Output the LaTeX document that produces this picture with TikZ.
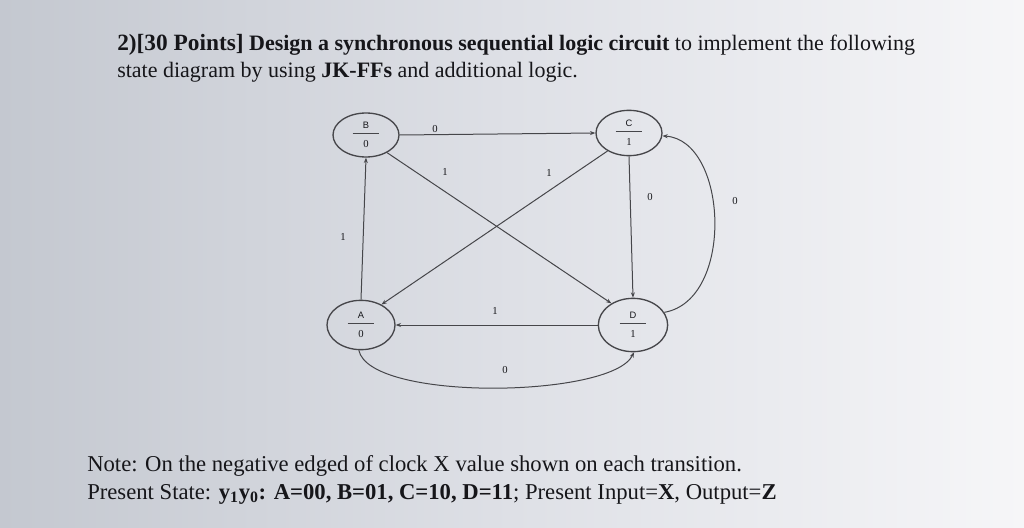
\documentclass[tikz,border=0pt]{standalone}
\usepackage{fontspec}
\setmainfont{Liberation Serif}
\setsansfont{Liberation Sans}
\usetikzlibrary{shapes.geometric,arrows.meta}
\definecolor{bgl}{RGB}{196,200,208}
\definecolor{bgm}{RGB}{222,224,230}
\definecolor{bgr}{RGB}{246,246,248}
\definecolor{ln}{RGB}{70,70,74}
\definecolor{tx}{RGB}{22,22,26}
\tikzset{
  stateell/.style={ellipse, draw=ln, line width=1pt, inner sep=0pt},
  letterlbl/.style={font=\sffamily\fontsize{7}{8}\selectfont, text=tx, inner sep=0pt},
  digitlbl/.style={font=\fontsize{8}{9}\selectfont, text=tx, inner sep=0pt},
  edgelbl/.style={font=\fontsize{8}{9}\selectfont, text=tx, inner sep=0pt},
  trans/.style={draw=ln, line width=0.75pt, -{Stealth[length=4pt,width=3pt]}},
  bigtext/.style={anchor=base west, inner sep=0pt, text=tx}
}
\begin{document}
\begin{tikzpicture}[x=0.75pt,y=-0.75pt]
\useasboundingbox (0,0) rectangle (1024,528);
\shade[left color=bgl, right color=bgr, middle color=bgm] (0,0) rectangle (1024,528);

% states
\node[stateell, minimum width=49.5pt, minimum height=33pt] (B) at (366,135) {};
\node[stateell, minimum width=49.5pt, minimum height=34pt] (C) at (629,133) {};
\node[stateell, minimum width=51pt, minimum height=37pt] (A) at (361,325) {};
\node[stateell, minimum width=52pt, minimum height=40pt] (D) at (633,325) {};

\foreach \s/\l/\d in {B/B/0, C/C/1, A/A/0, D/D/1}{
  \node[letterlbl] (\s-l) at ([yshift=7.5pt]\s.center) {\l};
  \node[digitlbl] (\s-d) at ([yshift=-7pt]\s.center) {\d};
  \draw[ln, line width=0.6pt] ([xshift=-10pt,yshift=1pt]\s.center) -- ([xshift=10pt,yshift=1pt]\s.center);
}

% transitions
\draw[trans] (B.east) -- (C.west);
\draw[trans] (A.north) -- (B.south);
\draw[trans] (C.south) -- (D.north);
\draw[trans] (D.west) -- (A.east);
\draw[trans] (B.-40) -- (D.135);
\draw[trans] (C.-140) -- (A.45);
\draw[trans] (D.22) .. controls (735,300) and (728,140) .. (C.-5);
\draw[trans] (A.-95) .. controls (370,402) and (612,398) .. (D.-88);

% transition labels
\node[edgelbl] (lBC) at (435,129) {0};
\node[edgelbl] (lAB) at (343,237) {1};
\node[edgelbl] (lCD) at (650,197) {0};
\node[edgelbl] (lDC) at (735,201) {0};
\node[edgelbl] (lDA) at (495,311) {1};
\node[edgelbl] (lAD) at (505,370) {0};
\node[edgelbl] (lBD) at (445,172) {1};
\node[edgelbl] (lCA) at (549,173) {1};

% title
\node[bigtext, font=\fontsize{16.5}{19}\selectfont] (t1) at (117,51)
  {\textbf{\fontsize{17.5}{19}\selectfont 2)[30 Points]} \textbf{Design a synchronous sequential logic circuit} to implement the following};
\node[bigtext, font=\fontsize{16.5}{19}\selectfont] (t2) at (117,78)
  {state diagram by using \textbf{JK-FFs} and additional logic.};

% note
\node[bigtext, font=\fontsize{17}{20}\selectfont] (n1) at (87,471)
  {Note: On the negative edged of clock X value shown on each transition.};
\node[bigtext, font=\fontsize{17}{20}\selectfont] (n2) at (87,499)
  {Present State: \textbf{y\textsubscript{1}y\textsubscript{0}: A=00, B=01, C=10, D=11}; Present Input=\textbf{X}, Output=\textbf{Z}};
\end{tikzpicture}
\end{document}
